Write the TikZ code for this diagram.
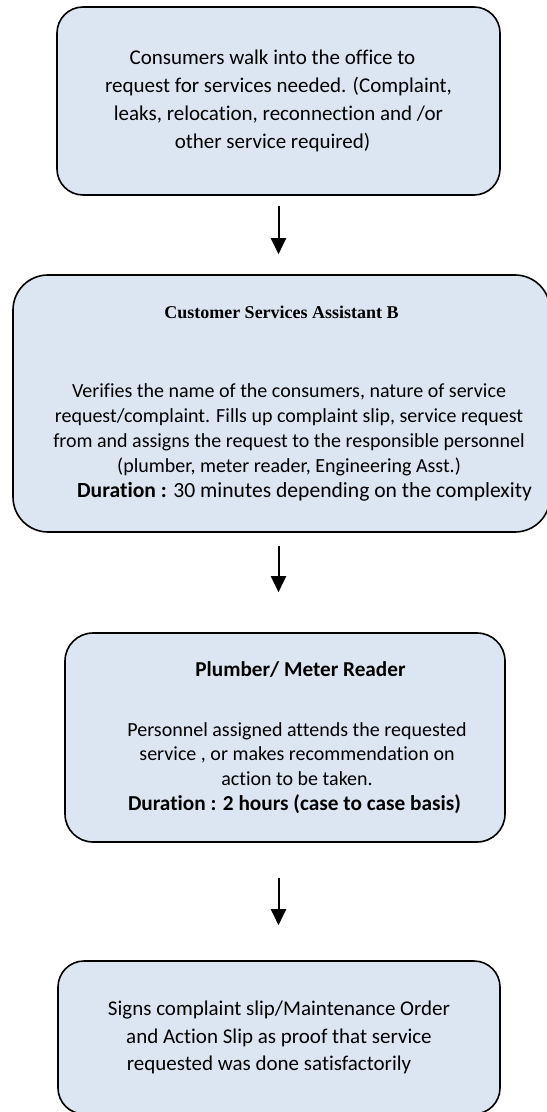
\documentclass[tikz,border=0pt]{standalone}
\usepackage{fontspec}
\setmainfont{Carlito}[Ligatures=NoCommon]
\newfontfamily\titlefont{Liberation Serif}
\usetikzlibrary{arrows.meta}
\definecolor{boxfill}{HTML}{DCE6F2}

\begin{document}
\begin{tikzpicture}[x=0.5pt, y=-0.5pt,
  stepbox/.style={draw, line width=0.8pt, fill=boxfill, rounded corners=13pt, align=center, inner sep=0pt},
  flow/.style={-{Triangle[width=7.5pt,length=8pt]}, line width=1pt}]
\useasboundingbox (0,0) rectangle (546,1112);

\node[stepbox, minimum width=221.5pt, minimum height=94pt, font=\fontsize{10.5}{14}\selectfont] (walkin) at (278.5,101)
  {Consumers walk into the office to\hspace*{6pt}\\
   request for services needed. (Complaint,\hspace*{6pt}\\
   leaks, relocation, reconnection and /or\hspace*{6pt}\\
   other service required)\hspace*{6pt}};

\node[stepbox, rounded corners=17.5pt, minimum width=268.5pt, minimum height=128.5pt, font=\fontsize{10}{12.5}\selectfont] (csa) at (281.5,403.5)
  {{\titlefont\bfseries\fontsize{9}{12.5}\selectfont Customer Services Assistant B}\\[27pt]
   \hspace*{7.5pt}Verifies the name of the consumers, nature of service\\
   \hspace*{7.5pt}request/complaint. Fills up complaint slip, service request\\
   \hspace*{7.5pt}from and assigns the request to the responsible personnel\\
   \hspace*{7.5pt}(plumber, meter reader, Engineering Asst.)\\
   {\fontsize{10.8}{12.5}\selectfont\hspace*{23pt}\textbf{Duration :} 30 minutes depending on the complexity}};

\node[stepbox, rounded corners=14pt, minimum width=220pt, minimum height=104.5pt, font=\fontsize{10}{12.4}\selectfont] (plumber) at (285,737.5)
  {{\fontsize{10.6}{12.4}\selectfont\bfseries\hspace*{15.5pt}Plumber/ Meter Reader}\\[17.5pt]
   \hspace*{12pt}Personnel assigned attends the requested\\
   \hspace*{12pt}service , or makes recommendation on\\
   \hspace*{12pt}action to be taken.\\
   {\fontsize{10.65}{12.4}\selectfont\hspace*{9.5pt}\textbf{Duration : 2 hours (case to case basis)}}};

\node[stepbox, minimum width=221pt, minimum height=76.5pt, font=\fontsize{10.5}{13.75}\selectfont] (signs) at (279,1037.5)
  {Signs complaint slip/Maintenance Order\\and Action Slip as proof that service\\requested was done satisfactorily\hspace*{10pt}};

% flechas entre etapas
\draw[flow, shorten <=5pt, shorten >=10pt] (walkin.south) -- (walkin.south |- csa.north);
\draw[flow, shorten <=6.5pt, shorten >=20pt] (walkin.south |- csa.south) -- (walkin.south |- plumber.north);
\draw[flow, shorten <=17.5pt, shorten >=17.5pt] (walkin.south |- plumber.south) -- (walkin.south |- signs.north);
\end{tikzpicture}
\end{document}
